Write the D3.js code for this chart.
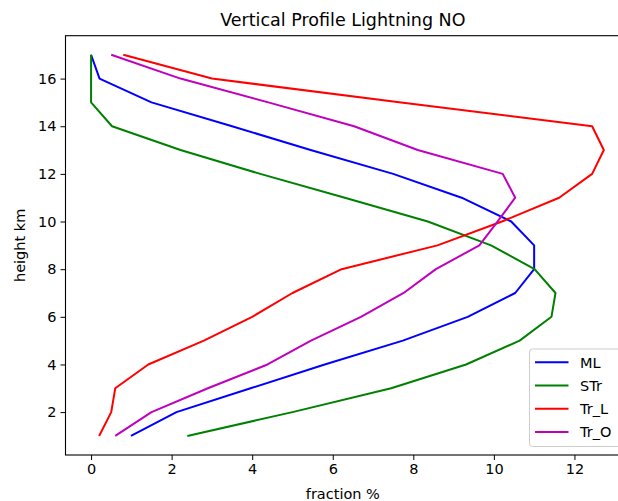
<!DOCTYPE html>
<html>
<head>
<meta charset="utf-8">
<script src="https://cdn.jsdelivr.net/npm/d3@7"></script>
<style>
  body { margin: 0; background: #fff; }
  svg { display: block; font-family: "DejaVu Sans", sans-serif; }
</style>
</head>
<body>
<svg id="drawing_region"></svg>
<script>
// heights (km) shared by all profiles
const heights = [1, 2, 3, 4, 5, 6, 7, 8, 9, 10, 11, 12, 13, 14, 15, 16, 17];

// fraction % per height
const ML   = [0.99, 2.12, 3.96, 5.8, 7.74, 9.35, 10.53, 11.0, 11.0, 10.43, 9.2, 7.5, 5.45, 3.5, 1.5, 0.21, 0.0];
const STr  = [2.39, 5.0, 7.45, 9.31, 10.64, 11.43, 11.53, 11.01, 9.93, 8.36, 6.3, 4.2, 2.22, 0.52, 0.0, 0.0, 0.0];
const Tr_L = [0.2, 0.5, 0.6, 1.42, 2.8, 4.0, 5.0, 6.22, 8.6, 10.2, 11.62, 12.44, 12.73, 12.44, 7.7, 3.0, 0.8];
const Tr_O = [0.6, 1.5, 2.9, 4.38, 5.46, 6.7, 7.76, 8.56, 9.64, 10.09, 10.53, 10.22, 8.11, 6.53, 4.4, 2.22, 0.5];

const seriesNames = ['ML', 'STr', 'Tr_L', 'Tr_O'];
const seriesValues = [ML, STr, Tr_L, Tr_O];
const seriesColors = ['#0000ff', '#008000', '#ff0000', '#bf00bf'];

const xTicks = [0, 2, 4, 6, 8, 10, 12];
const yTicks = [2, 4, 6, 8, 10, 12, 14, 16];

const config = {
    width: 618,
    height: 501,
    left: 65.5,
    top: 35.7,
    plotWidth: 562.7,
    plotHeight: 419.3
};

const svg = d3.select('#drawing_region')
    .attr('width', config.width)
    .attr('height', config.height);

const xScale = d3.scaleLinear()
    .domain([-0.635, 13.335])
    .range([config.left, config.left + config.plotWidth]);

const yScale = d3.scaleLinear()
    .domain([0.2, 17.8])
    .range([config.top + config.plotHeight, config.top]);

// axes
const xAxis = svg.append('g')
    .attr('transform', `translate(0, ${config.top + config.plotHeight})`)
    .call(d3.axisBottom(xScale).tickValues(xTicks).tickSize(5).tickPadding(4).tickFormat(d3.format('d')));

const yAxis = svg.append('g')
    .attr('transform', `translate(${config.left}, 0)`)
    .call(d3.axisLeft(yScale).tickValues(yTicks).tickSize(5).tickPadding(4).tickFormat(d3.format('d')));

[xAxis, yAxis].forEach(a => {
    a.select('.domain').remove();
    a.selectAll('line').attr('stroke', '#000').attr('stroke-width', 1);
    a.selectAll('text').attr('fill', '#000').style('font-size', '14.5px')
        .style('font-family', '"DejaVu Sans", sans-serif');
});

// lines
const line = d3.line()
    .x(d => xScale(d[0]))
    .y(d => yScale(d[1]));

seriesValues.forEach((vals, i) => {
    svg.append('path')
        .datum(vals.map((v, j) => [v, heights[j]]))
        .attr('d', line)
        .attr('fill', 'none')
        .attr('stroke', seriesColors[i])
        .attr('stroke-width', 2)
        .attr('stroke-linejoin', 'round');
});

// frame
svg.append('rect')
    .attr('x', config.left)
    .attr('y', config.top)
    .attr('width', config.plotWidth)
    .attr('height', config.plotHeight)
    .attr('fill', 'none')
    .attr('stroke', '#000')
    .attr('stroke-width', 1.1);

// title and axis labels
svg.append('text')
    .attr('x', config.left + config.plotWidth / 2 - 4)
    .attr('y', 26)
    .attr('text-anchor', 'middle')
    .style('font-size', '17.5px')
    .text('Vertical Profile Lightning NO');

svg.append('text')
    .attr('x', config.left + config.plotWidth / 2 - 4)
    .attr('y', 499)
    .attr('text-anchor', 'middle')
    .style('font-size', '14.5px')
    .text('fraction %');

svg.append('text')
    .attr('transform', `translate(25, ${config.top + config.plotHeight / 2}) rotate(-90)`)
    .attr('text-anchor', 'middle')
    .style('font-size', '14.5px')
    .text('height km');

// legend
const legend = svg.append('g').attr('transform', 'translate(529.5, 349)');

legend.append('rect')
    .attr('width', 120)
    .attr('height', 97.5)
    .attr('rx', 3)
    .attr('fill', 'rgba(255,255,255,0.8)')
    .attr('stroke', '#cccccc')
    .attr('stroke-width', 1);

seriesNames.forEach((name, i) => {
    const y = 13.3 + i * 23.2;
    legend.append('line')
        .attr('x1', 5.5).attr('x2', 39)
        .attr('y1', y).attr('y2', y)
        .attr('stroke', seriesColors[i])
        .attr('stroke-width', 2);
    legend.append('text')
        .attr('x', 50.5)
        .attr('y', y + 5.3)
        .style('font-size', '14.5px')
        .text(name);
});
</script>
</body>
</html>
